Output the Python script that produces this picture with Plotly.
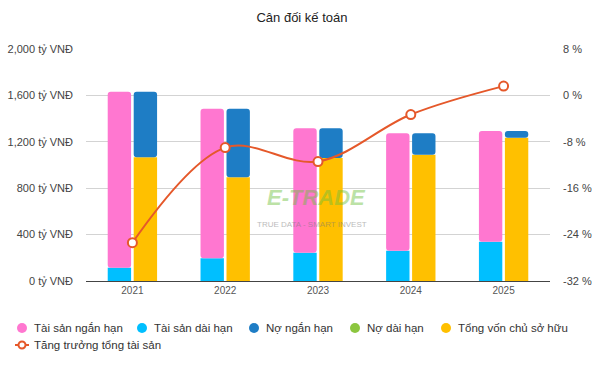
import plotly.graph_objects as go

years = ["2021", "2022", "2023", "2024", "2025"]
tai_san_ngan_han = [1517, 1289, 1072, 1012, 954]
tai_san_dai_han = [115, 196, 244, 261, 339]
no_ngan_han = [566, 591, 256, 184, 58]
no_dai_han = [0, 0, 0, 0, 0]
tong_von_csh = [1066, 894, 1060, 1089, 1235]
tang_truong = [-25.4, -9.0, -11.4, -3.3, 1.6]

left_ticks = [0, 400, 800, 1200, 1600, 2000]
left_labels = ["0 tỷ VNĐ", "400 tỷ VNĐ", "800 tỷ VNĐ", "1,200 tỷ VNĐ", "1,600 tỷ VNĐ", "2,000 tỷ VNĐ"]
right_ticks = [-32, -24, -16, -8, 0, 8]
right_labels = ["-32 %", "-24 %", "-16 %", "-8 %", "0 %", "8 %"]

C_PINK = "#FF77D0"
C_CYAN = "#00BFFF"
C_DBLUE = "#1E7DC5"
C_GREEN = "#8CC63F"
C_YELLOW = "#FFC000"
C_LINE = "#E5582A"

W, H = 604, 375
ML, MR, MT, MB = 86, 54, 49, 94
PW, PH = W - ML - MR, H - MT - MB

def px_x(px):
    return (px - ML) / PW

def px_y(py):
    return (H - MB - py) / PH

fig = go.Figure()

# Stack group A: assets
fig.add_bar(x=years, y=tai_san_dai_han, name="Tài sản dài hạn", marker_color=C_CYAN,
            offsetgroup="a", showlegend=False)
fig.add_bar(x=years, y=tai_san_ngan_han, name="Tài sản ngắn hạn", marker_color=C_PINK,
            offsetgroup="a", base=tai_san_dai_han, showlegend=False)
# Stack group B: capital
base2 = [tong_von_csh[i] for i in range(len(years))]
base3 = [tong_von_csh[i] + no_ngan_han[i] for i in range(len(years))]
fig.add_bar(x=years, y=tong_von_csh, name="Tổng vốn chủ sở hữu", marker_color=C_YELLOW,
            offsetgroup="b", showlegend=False)
fig.add_bar(x=years, y=no_ngan_han, name="Nợ ngắn hạn", marker_color=C_DBLUE,
            offsetgroup="b", base=base2, showlegend=False)
fig.add_bar(x=years, y=no_dai_han, name="Nợ dài hạn", marker_color=C_GREEN,
            offsetgroup="b", base=base3, showlegend=False)

fig.update_traces(marker_line_width=0, selector=dict(type="bar"))

fig.add_scatter(x=years, y=tang_truong, name="Tăng trưởng tổng tài sản", yaxis="y2",
                mode="lines+markers", line=dict(color=C_LINE, width=2, shape="spline", smoothing=1.0),
                marker=dict(size=9, color="white", line=dict(color=C_LINE, width=2)),
                showlegend=False)

# watermark
fig.add_annotation(x=px_x(316), y=px_y(212), xref="paper", yref="paper", text="<b><i>E-TRADE</i></b>",
                   showarrow=False, font=dict(size=22, color="#6cbf3c", family="Liberation Sans"),
                   opacity=0.45)
fig.add_annotation(x=px_x(312), y=px_y(231), xref="paper", yref="paper", text="TRUE DATA - SMART INVEST",
                   showarrow=False, font=dict(size=8, color="#777777", family="Liberation Sans"),
                   opacity=0.5)

# custom legend
legend_items = [("Tài sản ngắn hạn", C_PINK, 22, 328), ("Tài sản dài hạn", C_CYAN, 142, 328),
                ("Nợ ngắn hạn", C_DBLUE, 254, 328), ("Nợ dài hạn", C_GREEN, 355, 328),
                ("Tổng vốn chủ sở hữu", C_YELLOW, 446, 328)]
for nm, col, cx, cy in legend_items:
    fig.add_shape(type="circle", xref="paper", yref="paper", xsizemode="pixel", ysizemode="pixel",
                  xanchor=px_x(cx), yanchor=px_y(cy), x0=-5, x1=5, y0=-5, y1=5,
                  fillcolor=col, line=dict(width=0))
    fig.add_annotation(x=px_x(cx + 10), y=px_y(cy), xref="paper", yref="paper", text=nm,
                       showarrow=False, xanchor="left", yanchor="middle",
                       font=dict(size=11.5, color="#333333"))
# line legend item
fig.add_shape(type="line", xref="paper", yref="paper", x0=px_x(15), x1=px_x(29),
              y0=px_y(345), y1=px_y(345), line=dict(color=C_LINE, width=2))
fig.add_shape(type="circle", xref="paper", yref="paper", xsizemode="pixel", ysizemode="pixel",
              xanchor=px_x(22), yanchor=px_y(345), x0=-3.5, x1=3.5, y0=-3.5, y1=3.5,
              fillcolor="white", line=dict(color=C_LINE, width=2))
fig.add_annotation(x=px_x(32), y=px_y(345), xref="paper", yref="paper", text="Tăng trưởng tổng tài sản",
                   showarrow=False, xanchor="left", yanchor="middle",
                   font=dict(size=11.5, color="#333333"))

fig.update_layout(
    width=W, height=H,
    margin=dict(l=ML, r=MR, t=MT, b=MB),
    paper_bgcolor="white", plot_bgcolor="white",
    showlegend=False,
    font=dict(family="Liberation Sans, Arial, sans-serif", size=11, color="#444444"),
    title=dict(text="Cân đối kế toán", x=0.5, xanchor="center", y=1 - 17 / H, yanchor="middle",
               font=dict(size=13, color="#222222"), automargin=False),
    barmode="group", bargap=0.44, bargroupgap=0.1, barcornerradius=3,
    xaxis=dict(showline=True, linecolor="#444444", linewidth=1, showgrid=False,
               tickfont=dict(size=10, color="#555555"), ticks="", fixedrange=True, automargin=False),
    yaxis=dict(range=[0, 2000], tickmode="array", tickvals=left_ticks, ticktext=left_labels,
               gridcolor="#d3d3d3", gridwidth=1, zeroline=False, automargin=False,
               tickfont=dict(size=11, color="#444444"), ticklabelstandoff=12),
    yaxis2=dict(range=[-32, 8], tickmode="array", tickvals=right_ticks, ticktext=right_labels,
                overlaying="y", side="right", showgrid=False, zeroline=False, automargin=False,
                tickfont=dict(size=11, color="#444444"), ticklabelstandoff=12),
)

fig.write_html("out.html", config={"displayModeBar": False},
               post_script="document.body.style.margin='0';document.body.style.overflow='hidden';")
